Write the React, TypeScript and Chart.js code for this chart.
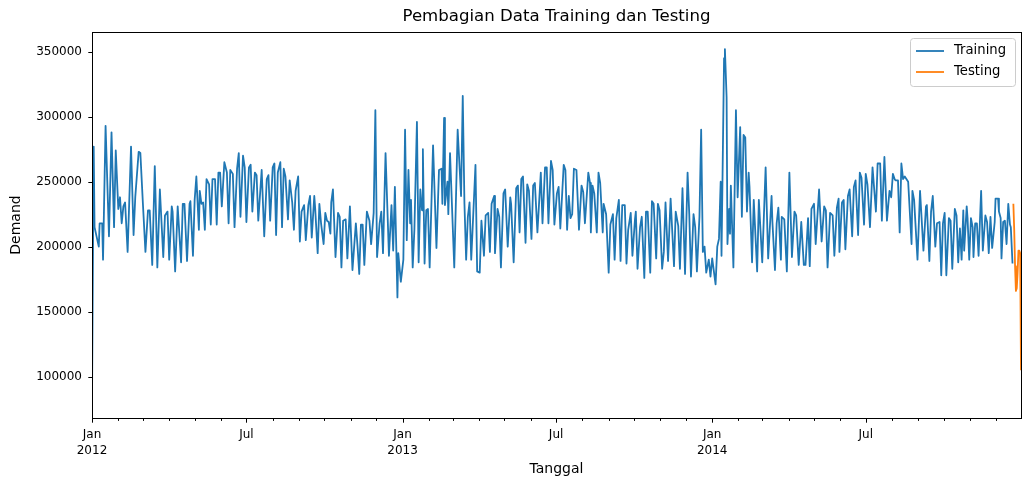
import { useEffect, useRef } from "react";
import { Chart, registerables } from "chart.js";

Chart.register(...registerables);

// Daily demand, traced through its weekly highs and lows.
// Each entry is [days since 1 Jan 2012, demand].
const train2012: [number, number][] = [
  [0, 82000], [2, 277000], [3, 215000], [8, 200000], [9, 218000], [12, 218000], [13, 190000],
  [16, 293000], [20, 208000], [23, 288000], [26, 215000], [28, 274000], [31, 229000], [33, 238000],
  [35, 218000], [37, 231000], [39, 234000], [42, 196000], [46, 277000], [49, 209000], [51, 238000],
  [55, 273000], [57, 272000], [60, 233000], [63, 196000], [66, 228000], [68, 228000], [71, 186000],
  [74, 262000], [77, 184000], [80, 244000], [84, 192000], [86, 224000], [89, 227000], [91, 190000],
  [94, 231000], [95, 227000], [98, 181000], [101, 231000], [105, 188000], [107, 233000], [109, 233000],
  [112, 189000], [115, 233000], [116, 235000], [119, 193000], [121, 236000], [123, 254000], [126, 213000],
  [127, 243000], [129, 233000], [131, 234000], [133, 213000], [135, 252000], [138, 248000], [140, 217000],
  [142, 252000], [145, 252000], [147, 217000], [149, 257000], [151, 257000], [153, 231000], [156, 265000],
  [159, 257000], [161, 218000], [163, 259000], [166, 256000], [168, 215000], [171, 260000], [173, 272000],
  [175, 223000], [178, 270000], [180, 261000], [182, 219000], [185, 261000], [187, 263000], [189, 227000],
  [192, 257000], [194, 255000], [196, 220000], [200, 259000], [203, 208000], [206, 252000], [208, 255000],
  [210, 220000], [213, 261000], [215, 264000], [217, 209000], [219, 257000], [222, 265000], [224, 215000],
  [226, 260000], [228, 254000], [231, 221000], [233, 251000], [236, 234000], [238, 213000], [240, 243000],
  [243, 254000], [245, 204000], [247, 227000], [250, 232000], [252, 205000], [255, 232000], [257, 239000],
  [259, 207000], [262, 239000], [263, 230000], [266, 195000], [268, 233000], [270, 218000], [273, 202000],
  [275, 226000], [277, 220000], [279, 219000], [281, 210000], [282, 234000], [284, 244000], [287, 192000],
  [290, 226000], [292, 223000], [294, 184000], [296, 220000], [299, 221000], [301, 191000], [304, 231000],
  [307, 182000], [311, 218000], [313, 200000], [315, 179000], [317, 217000], [319, 217000], [321, 186000],
  [324, 227000], [327, 220000], [329, 202000], [332, 226000], [334, 305000], [336, 192000], [339, 218000],
  [341, 227000], [343, 195000], [346, 272000], [350, 193000], [353, 232000], [355, 197000], [357, 246000],
  [360, 161000], [361, 195000], [364, 173000],
];

const train2013: [number, number][] = [
  [367, 190000], [369, 290000], [371, 205000], [373, 259000], [375, 218000], [376, 236000], [378, 184000],
  [380, 213000], [383, 296000], [385, 188000], [387, 244000], [389, 228000], [390, 275000], [392, 187000],
  [394, 228000], [396, 229000], [398, 184000], [402, 278000], [406, 199000], [409, 259000], [412, 260000],
  [413, 233000], [415, 299000], [416, 232000], [419, 250000], [420, 225000], [422, 272000], [427, 184000],
  [431, 290000], [435, 239000], [437, 316000], [439, 233000], [441, 190000], [443, 223000], [445, 234000],
  [447, 190000], [452, 263000], [454, 181000], [457, 180000], [459, 220000], [462, 193000], [464, 224000],
  [467, 226000], [469, 196000], [471, 233000], [474, 239000], [475, 195000], [478, 229000], [480, 223000],
  [482, 184000], [485, 241000], [487, 244000], [490, 200000], [493, 238000], [494, 233000], [497, 188000],
  [500, 245000], [502, 247000], [504, 211000], [506, 252000], [508, 254000], [511, 203000], [513, 248000],
  [515, 243000], [518, 206000], [520, 247000], [522, 249000], [525, 211000], [529, 257000], [531, 218000],
  [534, 261000], [536, 261000], [538, 218000], [541, 266000], [543, 259000], [545, 217000], [548, 241000],
  [550, 246000], [552, 214000], [556, 263000], [558, 259000], [560, 213000], [562, 239000], [564, 222000],
  [566, 225000], [568, 260000], [571, 259000], [574, 213000], [577, 247000], [579, 242000], [581, 218000],
  [585, 257000], [587, 249000], [588, 211000], [590, 247000], [592, 241000], [595, 211000], [597, 257000],
  [599, 249000], [602, 211000], [603, 233000], [606, 225000], [609, 180000], [611, 217000], [614, 225000],
  [616, 190000], [618, 222000], [621, 236000], [623, 189000], [625, 232000], [628, 232000], [630, 187000],
  [632, 213000], [635, 226000], [637, 193000], [640, 221000], [641, 227000], [643, 183000], [646, 215000],
  [648, 223000], [651, 176000], [653, 227000], [655, 227000], [658, 180000], [660, 235000], [662, 233000],
  [665, 191000], [667, 233000], [669, 228000], [672, 183000], [674, 196000], [676, 234000], [679, 189000],
  [682, 237000], [686, 185000], [688, 227000], [691, 216000], [693, 183000], [696, 245000], [699, 179000],
  [702, 257000], [704, 225000], [706, 177000], [709, 225000], [711, 215000], [713, 181000], [716, 223000],
  [718, 290000], [720, 196000], [722, 200000], [724, 180000], [727, 190000], [729, 177000],
];

const train2014: [number, number][] = [
  [731, 191000], [735, 171000], [737, 200000], [739, 206000], [741, 250000], [742, 193000], [745, 345000],
  [746, 352000], [748, 315000], [749, 202000], [751, 229000], [752, 210000], [753, 247000], [756, 184000],
  [759, 305000], [761, 238000], [764, 292000], [766, 223000], [768, 286000], [770, 284000], [772, 227000],
  [774, 257000], [775, 246000], [778, 188000], [780, 236000], [784, 181000], [786, 236000], [790, 188000],
  [794, 261000], [797, 191000], [801, 239000], [802, 219000], [805, 182000], [807, 218000], [809, 230000],
  [812, 190000], [813, 223000], [816, 221000], [819, 181000], [822, 257000], [825, 192000], [828, 227000],
  [830, 224000], [833, 186000], [836, 219000], [839, 186000], [841, 186000], [844, 222000], [846, 185000],
  [848, 229000], [851, 233000], [853, 202000], [857, 244000], [860, 204000], [863, 231000], [865, 228000],
  [867, 184000], [870, 226000], [873, 224000], [875, 193000], [878, 230000], [880, 237000], [881, 196000],
  [884, 234000], [886, 236000], [888, 198000], [891, 239000], [893, 244000], [896, 208000], [898, 246000],
  [900, 251000], [903, 209000], [905, 257000], [907, 253000], [910, 217000], [912, 256000], [914, 248000],
  [917, 215000], [920, 261000], [922, 244000], [924, 227000], [926, 264000], [929, 264000], [931, 220000],
  [934, 269000], [937, 220000], [940, 243000], [942, 238000], [944, 256000], [946, 252000], [947, 251000],
  [950, 251000], [952, 211000], [954, 264000], [956, 252000], [958, 254000], [962, 250000], [966, 202000],
  [967, 243000], [969, 236000], [973, 190000], [976, 243000], [977, 243000], [980, 197000], [983, 231000],
  [984, 232000], [987, 189000], [989, 227000], [991, 239000], [994, 200000], [996, 218000], [999, 219000],
  [1001, 178000], [1003, 218000], [1005, 226000], [1007, 178000], [1010, 222000], [1012, 220000],
  [1014, 183000], [1017, 229000], [1019, 224000], [1021, 188000], [1023, 214000], [1025, 190000],
  [1027, 228000], [1028, 197000], [1031, 231000], [1032, 222000], [1034, 190000], [1036, 222000],
  [1038, 215000], [1039, 192000], [1041, 218000], [1043, 218000], [1045, 193000], [1048, 243000],
  [1050, 197000], [1053, 224000], [1055, 219000], [1057, 195000], [1059, 223000], [1061, 199000],
  [1064, 219000], [1065, 237000], [1068, 237000], [1069, 227000], [1071, 222000], [1072, 191000],
  [1074, 219000], [1076, 220000], [1078, 202000], [1080, 233000], [1082, 217000], [1083, 215000],
  [1085, 187000],
];

// Hold-out period at the end of December 2014
const testing: [number, number][] = [
  [1086, 233000], [1087, 213000], [1088, 185000], [1089, 166000], [1090, 168000],
  [1091, 180000], [1092, 197000], [1093, 197000], [1094, 195000], [1095, 105000],
];

const yTicks = [100000, 150000, 200000, 250000, 300000, 350000];
const years = [2012, 2013, 2014];
const monthNames = ["Jan", "", "", "", "", "", "Jul", "", "", "", "", ""];
const seriesNames = ["Training", "Testing"];
const seriesColors = ["#1f77b4", "#ff7f0e"];
const titleText = "Pembagian Data Training dan Testing";
const xTitle = "Tanggal";
const yTitle = "Demand";

const FONT = '"DejaVu Sans", "Liberation Sans", sans-serif';
const DAY_MS = 86400000;
const origin = Date.UTC(years[0], 0, 1);
const lastDay = (Date.UTC(years[years.length - 1], 11, 31) - origin) / DAY_MS;

// Month starts as day offsets, with their calendar month and year
const monthStarts = years.flatMap((y) =>
  monthNames.map((_, m) => ({ day: (Date.UTC(y, m, 1) - origin) / DAY_MS, month: m, year: y }))
);

const toXY = (pts: [number, number][]) => pts.map(([x, y]) => ({ x, y }));

const frame = {
  id: "frame",
  afterDatasetsDraw(chart: any) {
    const { ctx, chartArea: a, scales } = chart;
    ctx.save();
    ctx.strokeStyle = "#000";
    ctx.lineWidth = 1;
    const L = Math.round(a.left) + 0.5;
    const R = Math.round(a.right) + 0.5;
    const T = Math.round(a.top) + 0.5;
    const B = Math.round(a.bottom) + 0.5;
    ctx.strokeRect(L, T, R - L, B - T);
    ctx.beginPath();
    for (const v of yTicks) {
      const py = Math.round(scales.y.getPixelForValue(v)) + 0.5;
      ctx.moveTo(L - 4.2, py);
      ctx.lineTo(L, py);
    }
    for (const ms of monthStarts) {
      if (ms.day > lastDay) continue;
      const px = Math.round(scales.x.getPixelForValue(ms.day)) + 0.5;
      const len = monthNames[ms.month] ? 4.2 : 2.4;
      ctx.moveTo(px, B);
      ctx.lineTo(px, B + len);
    }
    ctx.stroke();
    ctx.restore();
  },
  afterDraw(chart: any) {
    const { ctx, chartArea: a } = chart;
    ctx.save();
    ctx.fillStyle = "#000";
    ctx.textAlign = "center";
    ctx.textBaseline = "middle";
    const cx = (a.left + a.right) / 2;
    ctx.font = `16.6px ${FONT}`;
    ctx.fillText(titleText, cx, 17);
    ctx.font = `14px ${FONT}`;
    ctx.fillText(xTitle, cx, 469);
    ctx.save();
    ctx.translate(16, (a.top + a.bottom) / 2);
    ctx.rotate(-Math.PI / 2);
    ctx.fillText(yTitle, 0, 0);
    ctx.restore();

    // legend box
    const bx = 910.5, by = 38.5, bw = 105, bh = 48, r = 3;
    ctx.beginPath();
    ctx.moveTo(bx + r, by);
    ctx.lineTo(bx + bw - r, by);
    ctx.arcTo(bx + bw, by, bx + bw, by + r, r);
    ctx.lineTo(bx + bw, by + bh - r);
    ctx.arcTo(bx + bw, by + bh, bx + bw - r, by + bh, r);
    ctx.lineTo(bx + r, by + bh);
    ctx.arcTo(bx, by + bh, bx, by + bh - r, r);
    ctx.lineTo(bx, by + r);
    ctx.arcTo(bx, by, bx + r, by, r);
    ctx.closePath();
    ctx.fillStyle = "rgba(255,255,255,0.8)";
    ctx.fill();
    ctx.strokeStyle = "#cccccc";
    ctx.lineWidth = 1;
    ctx.stroke();
    ctx.textAlign = "left";
    ctx.font = `13.2px ${FONT}`;
    seriesNames.forEach((name, i) => {
      const ly = 51 + i * 21;
      ctx.strokeStyle = seriesColors[i];
      ctx.lineWidth = 1.8;
      ctx.beginPath();
      ctx.moveTo(916, ly);
      ctx.lineTo(944, ly);
      ctx.stroke();
      ctx.fillStyle = "#000";
      ctx.fillText(name, 954, ly);
    });
    ctx.restore();
  },
};

export default function App() {
  const canvasRef = useRef<HTMLCanvasElement | null>(null);

  useEffect(() => {
    const canvas = canvasRef.current;
    if (!canvas) return;
    const chart = new Chart(canvas, {
      type: "line",
      data: {
        datasets: [
          {
            label: seriesNames[0],
            data: toXY([...train2012, ...train2013, ...train2014]),
            borderColor: seriesColors[0],
            borderWidth: 1.8,
            pointRadius: 0,
            tension: 0,
            fill: false,
            borderJoinStyle: "round",
          },
          {
            label: seriesNames[1],
            data: toXY(testing),
            borderColor: seriesColors[1],
            borderWidth: 1.8,
            pointRadius: 0,
            tension: 0,
            fill: false,
            borderJoinStyle: "round",
          },
        ],
      },
      options: {
        animation: false,
        responsive: false,
        devicePixelRatio: 1,
        events: [],
        layout: { padding: { top: 32, right: 10, left: 0, bottom: 0 } },
        plugins: {
          legend: { display: false },
          title: { display: false },
          tooltip: { enabled: false },
        },
        scales: {
          x: {
            type: "linear",
            min: 0,
            max: lastDay,
            grid: { display: false, drawTicks: false },
            border: { display: false },
            afterBuildTicks: (axis: any) => {
              axis.ticks = monthStarts.filter((m) => m.day <= lastDay).map((m) => ({ value: m.day }));
            },
            ticks: {
              autoSkip: false,
              maxRotation: 0,
              minRotation: 0,
              padding: 9,
              color: "#000",
              font: { family: FONT, size: 12, lineHeight: 1.33 },
              callback: (v: any) => {
                const ms = monthStarts.find((m) => m.day === v);
                if (!ms) return "";
                const name = monthNames[ms.month];
                if (!name) return "";
                return ms.month === 0 ? [name, String(ms.year)] : name;
              },
            },
            afterFit: (axis: any) => {
              axis.height = 68;
            },
          },
          y: {
            type: "linear",
            min: 68200,
            max: 365150,
            grid: { display: false, drawTicks: false },
            border: { display: false },
            afterBuildTicks: (axis: any) => {
              axis.ticks = yTicks.map((value) => ({ value }));
            },
            ticks: {
              padding: 10,
              color: "#000",
              font: { family: FONT, size: 12 },
              callback: (v: any) => String(v),
            },
            afterFit: (axis: any) => {
              axis.width = 92;
            },
          },
        },
      },
      plugins: [frame],
    });
    return () => chart.destroy();
  }, []);

  return (
    <div style={{ position: "fixed", left: 0, top: 0, width: 1031, height: 486, background: "#fff" }}>
      <canvas ref={canvasRef} width={1031} height={486} style={{ display: "block" }} />
    </div>
  );
}
